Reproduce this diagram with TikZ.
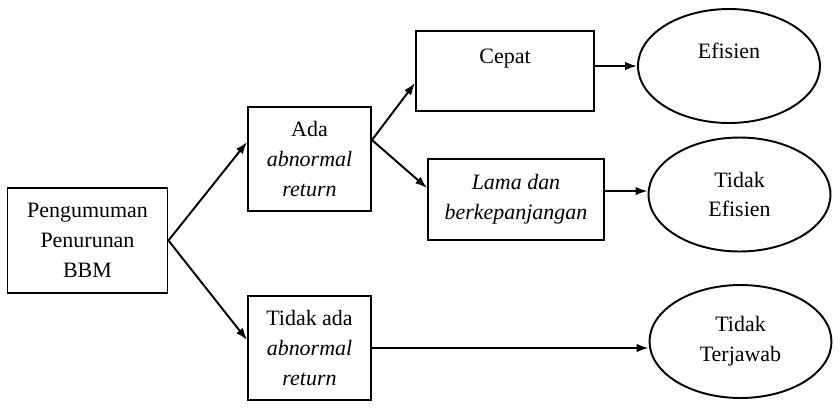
\documentclass[tikz,border=0pt]{standalone}
\usepackage{fontspec}
\setmainfont{Liberation Serif}
\usepackage{tikz}
\usetikzlibrary{arrows.meta,shapes,calc}

\begin{document}
\begin{tikzpicture}[x=0.02cm,y=-0.02cm,
line width=1.1pt,
font=\fontsize{12.5}{17}\selectfont,
every node/.style={align=center,inner sep=0pt},
kotak/.style={draw,rectangle},
elips/.style={draw,ellipse,minimum width=3.64cm,minimum height=2.28cm},
panah/.style={-{Latex[length=2.4mm,width=1.7mm]}}]
\useasboundingbox (0,0) rectangle (840,407);
% kotak
\node[kotak,minimum width=3.2cm,minimum height=2.1cm] (P) at (87.5,240.5) {Pengumuman\\Penurunan\\BBM};
\node[kotak,minimum width=2.46cm,minimum height=2.08cm] (ada) at (309.5,159) {Ada\\\textit{abnormal}\\\textit{return}};
\node[kotak,minimum width=2.46cm,minimum height=2.08cm] (tidakada) at (309.5,348) {Tidak ada\\\textit{abnormal}\\\textit{return}};
\node[kotak,minimum width=3.56cm,minimum height=1.6cm] (cepat) at (505,71) {Cepat\\\mbox{}};
\node[kotak,minimum width=3.52cm,minimum height=1.62cm] (lama) at (516,199.5) {\textit{Lama dan}\\\textit{berkepanjangan}};
% elips
\node[elips] (efisien) at (729,66) {Efisien\\\mbox{}};
\node[elips] (tidakefisien) at (739.5,194.5) {Tidak\\Efisien};
\node[elips,minimum height=2.26cm] (terjawab) at (740.5,341.5) {Tidak\\Terjawab};
% panah
\draw[panah] (P.east) -- ([yshift=0.34cm]ada.west);
\draw[panah] (P.east) -- ([yshift=0.16cm]tidakada.west);
\draw[panah] ([yshift=0.38cm]ada.east) -- ([yshift=-0.24cm]cepat.west);
\draw[panah] ([yshift=0.38cm]ada.east) -- ([yshift=0.23cm]lama.west);
\draw[panah] (efisien.west -| cepat.east) -- (efisien.west);
\draw[panah] ([yshift=0.17cm]lama.east) -- ([yshift=0.17cm]lama.east -| tidakefisien.west);
\draw[panah] (tidakada.east) -- (tidakada.east -| terjawab.west);
\end{tikzpicture}
\end{document}
